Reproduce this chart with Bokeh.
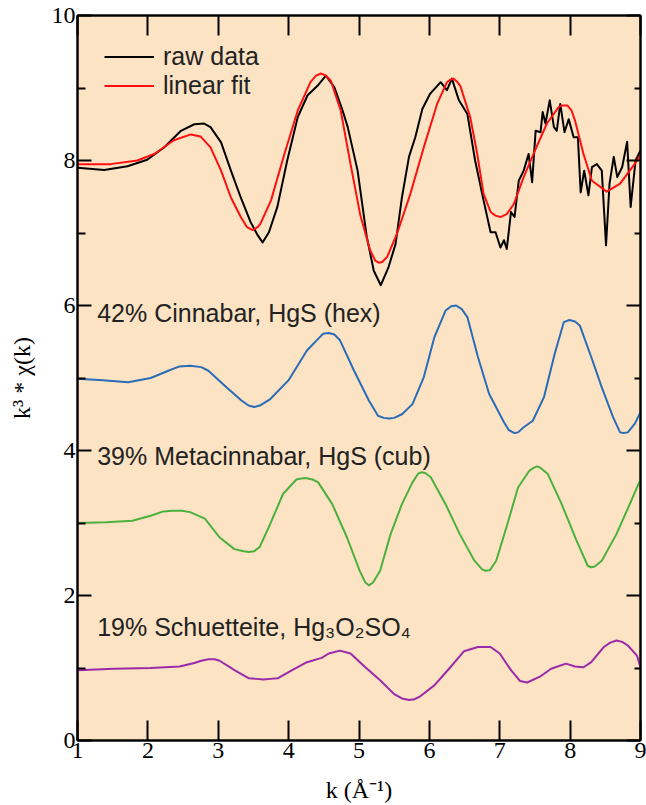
from bokeh.plotting import figure
from bokeh.models import LinearAxis, FixedTicker, Range1d, Label, Legend, LegendItem
from bokeh.embed import file_html
from bokeh.resources import INLINE

# ---- data ----
raw_k = [1.0,1.38,1.71,1.99,2.23,2.47,2.66,2.80,2.89,3.04,
         3.18,3.32,3.46,3.56,3.63,3.72,3.84,3.98,4.13,4.27,
         4.41,4.53,4.65,4.76,4.84,4.98,5.11,5.21,5.31,5.42,
         5.52,5.61,5.71,5.80,5.90,6.01,6.16,6.25,6.32,6.42,
         6.54,6.65,6.77,6.87,6.94,7.01,7.06,7.10,7.16,7.21,
         7.27,7.34,7.41,7.46,7.51,7.58,7.61,7.65,7.71,7.77,
         7.81,7.86,7.92,7.98,8.05,8.11,8.15,8.20,8.26,8.31,
         8.38,8.45,8.51,8.56,8.62,8.67,8.74,8.81,8.86,8.93,
         9.0]
raw_v = [7.90,7.87,7.92,8.01,8.18,8.41,8.50,8.51,8.46,8.25,
         7.86,7.49,7.15,6.97,6.87,7.01,7.36,8.0,8.60,8.90,
         9.03,9.17,9.01,8.71,8.46,7.86,6.95,6.48,6.28,6.53,
         6.85,7.49,8.05,8.32,8.71,8.92,9.08,8.97,9.13,8.83,
         8.64,8.0,7.45,7.01,7.01,6.80,6.90,6.78,7.29,7.22,
         7.72,7.86,8.09,7.70,8.41,8.39,8.67,8.51,8.83,8.46,
         8.41,8.78,8.39,8.57,8.32,8.32,7.56,7.86,7.52,7.91,
         7.95,7.86,6.83,7.68,8.05,7.77,7.91,8.26,7.36,8.0,
         8.14]

fit_k = [1.0,1.47,1.85,2.09,2.37,2.61,2.75,2.89,3.04,3.18,
         3.32,3.41,3.49,3.56,3.60,3.75,3.94,4.13,4.31,4.39,
         4.46,4.53,4.60,4.74,4.88,5.02,5.16,5.23,5.28,5.33,
         5.40,5.54,5.73,5.92,6.11,6.25,6.29,6.34,6.39,6.44,
         6.58,6.68,6.77,6.87,6.94,7.01,7.10,7.20,7.34,7.48,
         7.67,7.84,7.89,7.96,8.02,8.07,8.19,8.31,8.52,8.71,
         8.90,9.0]
fit_v = [7.95,7.95,8.0,8.09,8.28,8.36,8.33,8.18,7.86,7.49,
         7.22,7.08,7.04,7.08,7.13,7.45,8.09,8.69,9.08,9.17,
         9.20,9.17,9.10,8.69,7.95,7.24,6.76,6.62,6.59,6.60,
         6.67,6.99,7.54,8.18,8.78,9.08,9.11,9.13,9.09,9.03,
         8.60,8.09,7.54,7.29,7.24,7.22,7.26,7.40,7.77,8.09,
         8.51,8.74,8.76,8.76,8.69,8.55,8.09,7.72,7.57,7.68,
         7.93,8.07]

cinnabar_k = [1.0,1.36,1.72,2.04,2.29,2.45,2.60,2.76,2.86,3.12,
              3.33,3.43,3.51,3.59,3.74,4.0,4.26,4.44,4.49,4.57,
              4.65,4.73,4.93,5.14,5.27,5.35,5.43,5.50,5.61,5.76,
              5.92,6.07,6.23,6.31,6.38,6.46,6.54,6.69,6.85,7.06,
              7.13,7.21,7.26,7.34,7.47,7.63,7.78,7.91,7.99,8.07,
              8.14,8.30,8.45,8.61,8.71,8.76,8.82,8.92,9.0]
cinnabar_v = [4.99,4.97,4.94,5.00,5.10,5.16,5.17,5.15,5.10,4.87,
              4.69,4.62,4.60,4.62,4.71,4.97,5.38,5.56,5.61,5.62,
              5.60,5.52,5.10,4.69,4.48,4.45,4.44,4.45,4.50,4.64,
              5.01,5.56,5.93,5.99,6.0,5.95,5.84,5.29,4.78,4.39,
              4.28,4.24,4.25,4.32,4.41,4.74,5.33,5.77,5.80,5.78,
              5.72,5.29,4.87,4.46,4.25,4.24,4.25,4.37,4.53]

meta_k = [1.0,1.41,1.78,2.04,2.22,2.35,2.48,2.60,2.81,3.02,
          3.23,3.36,3.43,3.51,3.59,3.74,3.92,4.11,4.16,4.24,
          4.34,4.42,4.62,4.83,5.01,5.09,5.14,5.20,5.30,5.45,
          5.61,5.76,5.84,5.89,5.94,6.02,6.23,6.43,6.64,6.75,
          6.80,6.86,6.95,7.11,7.26,7.42,7.48,7.53,7.58,7.68,
          7.88,8.09,8.25,8.30,8.35,8.45,8.66,8.87,9.0]
meta_v = [3.0,3.01,3.03,3.10,3.16,3.17,3.17,3.15,3.06,2.80,
          2.64,2.61,2.60,2.61,2.67,2.99,3.40,3.60,3.61,3.62,
          3.60,3.56,3.26,2.80,2.34,2.18,2.14,2.18,2.34,2.85,
          3.26,3.56,3.68,3.70,3.69,3.63,3.26,2.85,2.48,2.36,
          2.34,2.35,2.48,2.99,3.49,3.72,3.76,3.78,3.76,3.68,
          3.26,2.76,2.41,2.39,2.40,2.48,2.85,3.31,3.60]

schu_k = [1.0,1.52,2.04,2.45,2.66,2.76,2.86,2.95,3.02,3.23,
          3.43,3.54,3.64,3.74,3.85,4.05,4.26,4.47,4.57,4.73,
          4.88,5.09,5.30,5.50,5.61,5.71,5.79,5.87,6.07,6.28,
          6.49,6.69,6.87,7.0,7.16,7.29,7.39,7.57,7.73,7.94,
          8.07,8.19,8.30,8.48,8.57,8.66,8.74,8.82,8.95,9.0]
schu_v = [0.97,0.99,1.00,1.02,1.07,1.10,1.12,1.12,1.10,0.97,
          0.86,0.85,0.84,0.85,0.86,0.97,1.08,1.14,1.20,1.24,
          1.20,1.01,0.83,0.64,0.58,0.56,0.57,0.61,0.76,0.99,
          1.23,1.29,1.29,1.20,0.97,0.82,0.80,0.88,0.99,1.06,
          1.02,1.01,1.08,1.29,1.35,1.38,1.36,1.31,1.17,1.01]

x_ticks = [1, 2, 3, 4, 5, 6, 7, 8, 9]
y_ticks = [0, 2, 4, 6, 8, 10]
y_minor = [1, 3, 5, 7, 9]

labels_text = ["42% Cinnabar, HgS (hex)",
               "39% Metacinnabar, HgS (cub)",
               "19% Schuetteite, Hg\u2083O\u2082SO\u2084"]
labels_x = [1.28, 1.28, 1.28]
labels_y = [5.89, 3.93, 1.57]

# ---- figure ----
p = figure(width=646, height=805, x_range=Range1d(1, 9), y_range=Range1d(0, 10),
           output_backend="svg", toolbar_location=None,
           min_border_left=77, min_border_right=6, min_border_top=15, min_border_bottom=65)
p.background_fill_color = "#FCE3C3"
p.border_fill_color = "white"
p.grid.visible = False
p.outline_line_color = "#1a1a1a"
p.outline_line_width = 2

SERIF = "Liberation Serif"
SANS = "Liberation Sans"

xa = p.xaxis[0]
xa.ticker = FixedTicker(ticks=x_ticks)
xa.major_tick_in = 20
xa.major_tick_out = 0
xa.minor_tick_in = 0
xa.minor_tick_out = 0
xa.axis_line_width = 2
xa.major_tick_line_width = 2
xa.major_label_text_font = SERIF
xa.major_label_text_font_size = "24px"
xa.major_label_text_color = "black"
xa.major_label_standoff = 2
xa.axis_label = "k (\u00c5\u207b\u00b9)"
xa.axis_label_text_font = SERIF
xa.axis_label_text_font_size = "24px"
xa.axis_label_text_font_style = "normal"
xa.axis_label_text_color = "black"
xa.axis_label_standoff = 16

ya = p.yaxis[0]
ya.ticker = FixedTicker(ticks=y_ticks, minor_ticks=y_minor)
ya.major_tick_in = 14
ya.major_tick_out = 0
ya.minor_tick_in = 8
ya.minor_tick_out = 0
ya.axis_line_width = 2
ya.major_tick_line_width = 2
ya.minor_tick_line_width = 2
ya.major_label_text_font = SERIF
ya.major_label_text_font_size = "24px"
ya.major_label_text_color = "black"
ya.major_label_standoff = 2
ya.axis_label = "k\u00b3 * \u03c7(k)"
ya.axis_label_text_font = SERIF
ya.axis_label_text_font_size = "24px"
ya.axis_label_text_font_style = "normal"
ya.axis_label_text_color = "black"
ya.axis_label_standoff = 14

ra = LinearAxis(ticker=FixedTicker(ticks=y_ticks, minor_ticks=y_minor),
                major_tick_in=14, major_tick_out=0, minor_tick_in=6, minor_tick_out=0,
                major_tick_line_width=2, minor_tick_line_width=2, axis_line_width=2,
                major_label_text_font_size="0px", major_label_text_color=None,
                major_label_standoff=0)
p.add_layout(ra, "right")
ta = LinearAxis(ticker=FixedTicker(ticks=x_ticks),
                major_tick_in=20, major_tick_out=0, minor_tick_in=0, minor_tick_out=0,
                major_tick_line_width=2, axis_line_width=2,
                major_label_text_font_size="0px", major_label_text_color=None,
                major_label_standoff=0)
p.add_layout(ta, "above")

# ---- curves ----
r_raw = p.line(raw_k, raw_v, line_color="black", line_width=2, line_join="round")
r_fit = p.line(fit_k, fit_v, line_color="#FF1010", line_width=2, line_join="round")
p.line(cinnabar_k, cinnabar_v, line_color="#2B6CB8", line_width=2, line_join="round")
p.line(meta_k, meta_v, line_color="#4CB03C", line_width=2, line_join="round")
p.line(schu_k, schu_v, line_color="#9B2AAA", line_width=2, line_join="round")

legend = Legend(items=[LegendItem(label="raw data", renderers=[r_raw]),
                       LegendItem(label="linear fit", renderers=[r_fit])],
                location="top_left", margin=27, padding=0, spacing=0,
                glyph_width=50, glyph_height=29, label_height=29, label_standoff=9,
                label_text_font=SANS, label_text_font_size="25px", label_text_color="#222222",
                background_fill_alpha=0, border_line_color=None)
p.add_layout(legend)

for t, x, y in zip(labels_text, labels_x, labels_y):
    p.add_layout(Label(x=x, y=y, text=t, text_font=SANS, text_font_size="25px",
                       text_baseline="middle", text_color="#222222"))

open("out.html", "w").write(file_html(p, INLINE))
